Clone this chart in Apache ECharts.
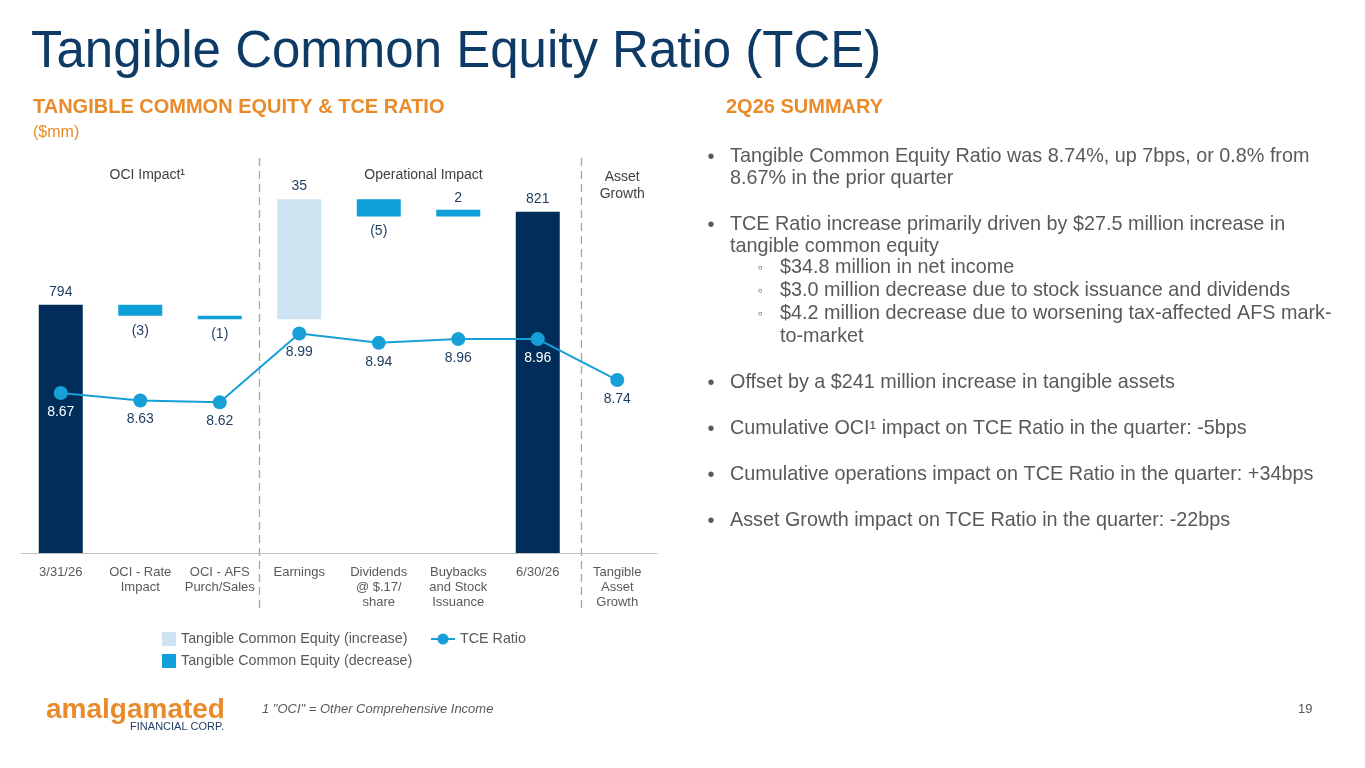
<!DOCTYPE html>
<html lang="en">
<head>
<meta charset="utf-8">
<title>Tangible Common Equity Ratio (TCE)</title>
<script src="https://cdn.jsdelivr.net/npm/echarts@6/dist/echarts.min.js"></script>
<style>
    html, body { margin: 0; padding: 0; background: #fff; }
    #slide { width: 1365px; height: 768px; }
</style>
</head>
<body>
<div id="slide"></div>
<script>
// ---- data ($mm and %) ----
var categories = ['3/31/26', 'OCI - Rate\nImpact', 'OCI - AFS\nPurch/Sales', 'Earnings',
    'Dividends\n@ $.17/\nshare', 'Buybacks\nand Stock\nIssuance', '6/30/26', 'Tangible\nAsset\nGrowth'];
var totals   = [794, '-', '-', '-', '-', '-', 821, '-'];
var increase = ['-', '-', '-', 34.8, '-', '-', '-', '-'];
// buybacks (+2) is drawn in the "decrease" colour on the slide, kept that way
var decrease = ['-', -3.2, -1.0, '-', -5.0, 2.0, '-', '-'];
var tceRatio = [8.67, 8.63, 8.62, 8.99, 8.94, 8.96, 8.96, 8.74];
var sections = [
    {text: 'OCI Impact\u00b9', from: 0, to: 2},
    {text: 'Operational Impact', from: 3, to: 6},
    {text: 'Asset\nGrowth', from: 7, to: 7}
];
var summary = [
    {lvl: 0, mark: true,  text: 'Tangible Common Equity Ratio was 8.74%, up 7bps, or 0.8% from'},
    {lvl: 0, mark: false, text: '8.67% in the prior quarter'},
    {lvl: 0, mark: true,  text: 'TCE Ratio increase primarily driven by $27.5 million increase in'},
    {lvl: 0, mark: false, text: 'tangible common equity'},
    {lvl: 1, mark: true,  text: '$34.8 million in net income'},
    {lvl: 1, mark: true,  text: '$3.0 million decrease due to stock issuance and dividends'},
    {lvl: 1, mark: true,  text: '$4.2 million decrease due to worsening tax-affected AFS mark-'},
    {lvl: 1, mark: false, text: 'to-market'},
    {lvl: 0, mark: true,  text: 'Offset by a $241 million increase in tangible assets'},
    {lvl: 0, mark: true,  text: 'Cumulative OCI\u00b9 impact on TCE Ratio in the quarter: -5bps'},
    {lvl: 0, mark: true,  text: 'Cumulative operations impact on TCE Ratio in the quarter: +34bps'},
    {lvl: 0, mark: true,  text: 'Asset Growth impact on TCE Ratio in the quarter: -22bps'}
];
// vertical centre of each summary line on the slide
var summaryY = [157, 179, 225, 247, 268, 291, 314, 337, 383, 429, 475, 521];

var FONT = 'Liberation Sans, Arial, Helvetica, sans-serif';
var NAVY = '#002D5A', MID = '#0FA0D9', LIGHT = '#CFE4F2', LINE = '#17A0D8';
var LABEL = '#1D3A5F', GREY = '#595959', ORANGE = '#E98B2A';

// waterfall: invisible base under each floating bar
var level = 0, base = [];
categories.forEach(function (c, i) {
    if (totals[i] !== '-') { level = totals[i]; base.push('-'); return; }
    var d = increase[i] !== '-' ? increase[i] : decrease[i];
    if (d === '-') { base.push('-'); return; }
    base.push(Math.min(level, level + d));
    level += d;
});

function moveLabel(v) {
    return v < 0 ? '(' + Math.round(-v) + ')' : String(Math.round(v));
}

var chart = echarts.init(document.getElementById('slide'));

var graphics = [
    {type: 'text', left: 31, top: 27, style: {text: 'Tangible Common Equity Ratio (TCE)', font: '51px ' + FONT, fill: '#0E3B66'}},
    {type: 'text', left: 33, top: 97, style: {text: 'TANGIBLE COMMON EQUITY & TCE RATIO', font: 'bold 20px ' + FONT, fill: ORANGE}},
    {type: 'text', left: 33, top: 125, style: {text: '($mm)', font: '16px ' + FONT, fill: ORANGE}},
    {type: 'text', left: 726, top: 97, style: {text: '2Q26 SUMMARY', font: 'bold 20px ' + FONT, fill: ORANGE}},
    {type: 'text', left: 46, top: 696, style: {text: 'amalgamated', font: 'bold 28px ' + FONT, fill: ORANGE}},
    {type: 'text', right: 1365 - 224, top: 721, style: {text: 'FINANCIAL CORP.', font: '11px ' + FONT, fill: '#1D3A5F'}},
    {type: 'text', left: 262, top: 703, style: {text: '1 "OCI" = Other Comprehensive Income', font: 'italic 13px ' + FONT, fill: GREY}},
    {type: 'text', left: 1298, top: 703, style: {text: '19', font: '13px ' + FONT, fill: GREY}}
];

summary.forEach(function (ln, k) {
    var y = summaryY[k];
    var tx = ln.lvl === 0 ? 730 : 780;
    if (ln.mark) {
        graphics.push({type: 'text', x: ln.lvl === 0 ? 711 : 760, y: y, style: {
            text: ln.lvl === 0 ? '\u2022' : '\u25e6', font: (ln.lvl === 0 ? '20px ' : '14px ') + FONT,
            fill: GREY, align: 'center', verticalAlign: 'middle'}});
    }
    graphics.push({type: 'text', x: tx, y: y, style: {
        text: ln.text, font: '19.8px ' + FONT, fill: GREY, verticalAlign: 'middle'}});
});

var option = {
    animation: false,
    textStyle: {fontFamily: FONT},
    grid: {left: 21, top: 160, width: 636, height: 393},
    legend: [
        {data: ['Tangible Common Equity (increase)'], left: 162, top: 632, padding: 0,
            itemWidth: 14, itemHeight: 14, icon: 'rect', textStyle: {fontSize: 14.3, color: GREY}},
        {data: ['TCE Ratio'], left: 430, top: 632, padding: 0,
            itemWidth: 24, itemHeight: 14, textStyle: {fontSize: 14.3, color: GREY}},
        {data: ['Tangible Common Equity (decrease)'], left: 162, top: 654, padding: 0,
            itemWidth: 14, itemHeight: 14, icon: 'rect', textStyle: {fontSize: 14.3, color: GREY}}
    ],
    xAxis: {
        type: 'category', data: categories,
        axisLine: {lineStyle: {color: '#BFBFBF', width: 1}},
        axisTick: {show: false},
        axisLabel: {color: GREY, fontSize: 13, lineHeight: 15, margin: 12, interval: 0}
    },
    yAxis: [
        {type: 'value', min: 722, max: 836, show: false, splitLine: {show: false}},
        {type: 'value', min: 7.81, max: 9.923, show: false, splitLine: {show: false}}
    ],
    series: [
        {name: 'base', type: 'bar', stack: 'wf', barWidth: 44, silent: true,
            itemStyle: {color: 'transparent'}, data: base},
        {name: 'Total', type: 'bar', stack: 'wf', barWidth: 44,
            itemStyle: {color: NAVY}, data: totals,
            label: {show: true, position: 'top', distance: 6, color: LABEL, fontSize: 14}},
        {name: 'Tangible Common Equity (increase)', type: 'bar', stack: 'wf', barWidth: 44,
            itemStyle: {color: LIGHT},
            data: increase.map(function (v) { return v === '-' ? '-' : Math.abs(v); }),
            label: {show: true, position: 'top', distance: 6, color: LABEL, fontSize: 14,
                formatter: function (p) { return moveLabel(increase[p.dataIndex]); }}},
        {name: 'Tangible Common Equity (decrease)', type: 'bar', stack: 'wf', barWidth: 44,
            itemStyle: {color: MID},
            data: decrease.map(function (v) {
                if (v === '-') return '-';
                return {value: Math.abs(v), label: {position: v < 0 ? 'bottom' : 'top', distance: v < 0 ? 8 : 5}};
            }),
            label: {show: true, color: LABEL, fontSize: 14,
                formatter: function (p) { return moveLabel(decrease[p.dataIndex]); }}},
        {name: 'TCE Ratio', type: 'line', yAxisIndex: 1, z: 5,
            symbol: 'circle', symbolSize: 14,
            lineStyle: {color: LINE, width: 2}, itemStyle: {color: LINE},
            data: tceRatio.map(function (v, i) {
                return {value: v, label: {color: totals[i] !== '-' ? '#FFFFFF' : LABEL}};
            }),
            label: {show: true, position: 'bottom', distance: 5, fontSize: 14,
                formatter: function (p) { return p.value.toFixed(2); }}}
    ],
    graphic: graphics
};
chart.setOption(option);

// separators and group titles, placed from the category axis
var px = categories.map(function (c, i) { return chart.convertToPixel({xAxisIndex: 0}, i); });
var step = px[1] - px[0];
[{after: 2, f: 0.5}, {after: 6, f: 0.55}].forEach(function (s) {
    var x = px[s.after] + step * s.f;
    graphics.push({type: 'line', shape: {x1: x, y1: 158, x2: x, y2: 612},
        style: {stroke: '#A6A6A6', lineWidth: 1.3, lineDash: [8, 5]}});
});
sections.forEach(function (s) {
    var x = (px[s.from] + px[s.to]) / 2;
    var twoLines = s.text.indexOf('\n') > 0;
    graphics.push({type: 'text', x: x + (s.from === 0 ? 7 : 5), y: twoLines ? 169 : 175,
        style: {text: s.text, font: '14px ' + FONT, fill: '#404040', align: 'center',
            verticalAlign: twoLines ? 'top' : 'middle', lineHeight: 17}});
});
chart.setOption({graphic: graphics});
</script>
</body>
</html>
